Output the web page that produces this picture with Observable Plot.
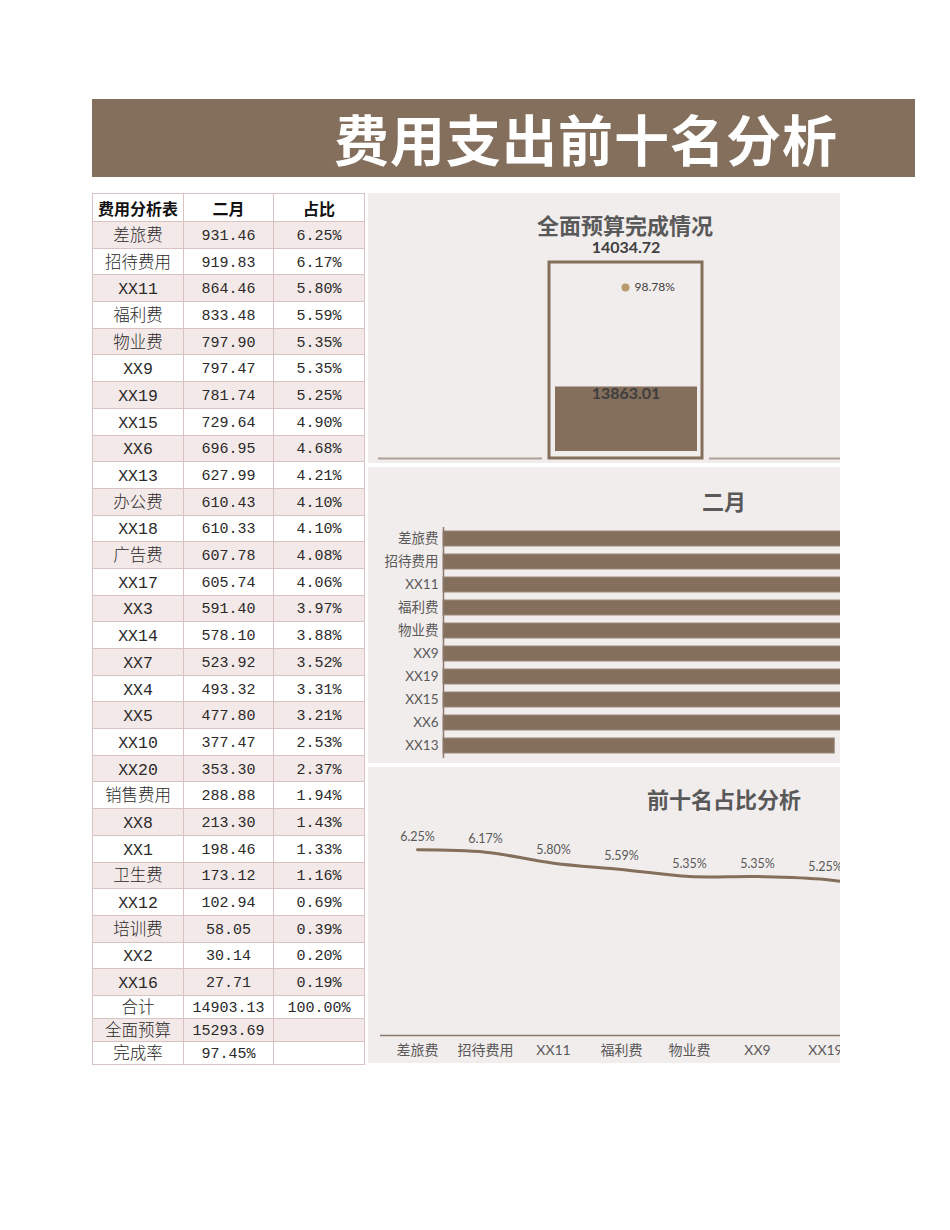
<!DOCTYPE html>
<html><head><meta charset="utf-8">
<script src="https://cdn.jsdelivr.net/npm/d3@7"></script>
<script src="https://cdn.jsdelivr.net/npm/@observablehq/plot@0.6"></script>
<style>
body{margin:0;background:#fff;width:950px;height:1230px;position:relative;overflow:hidden;font-family:"Noto Sans CJK SC",sans-serif}
#titlebar{position:absolute;left:92px;top:99px;width:823px;height:78px;background:#846e5c}
#titlebar span{position:absolute;left:242px;top:-2px;color:#fff;font-weight:700;font-size:55px;letter-spacing:1px;line-height:80px;white-space:nowrap}
#tbl{position:absolute;left:92px;top:193px;border-collapse:collapse;table-layout:fixed;width:273px}
#tbl td{border:1px solid #d8c2c2;padding:4px 0 0 0;text-align:center;overflow:hidden;white-space:nowrap;color:#2a2a2a;font-family:"Liberation Mono","Noto Sans CJK SC",monospace;font-size:15px;line-height:18px}
#tbl td.c0{font-size:16.5px;font-weight:300}
#tbl tr.head td{font-family:"Noto Sans CJK SC",sans-serif;font-weight:700;font-size:16px;color:#111;padding:0}
#tbl tr.shade td{background:#f4e9e9}
.panel{position:absolute;left:368px;width:472px;overflow:hidden}
.inner{position:relative;background:#f2eded;height:100%}
.inner svg{position:absolute;left:0;top:0}
.ctitle{position:absolute;left:0;right:0;text-align:center;font-weight:700;color:#595959;font-size:22px;line-height:28px;font-family:Lato,"Noto Sans CJK SC",sans-serif;z-index:2}
</style>
</head><body>
<div id="titlebar"><span>费用支出前十名分析</span></div>
<table id="tbl"><colgroup><col style="width:91px"><col style="width:90px"><col style="width:91px"></colgroup><tbody></tbody></table>
<div class="panel" id="gaugePanel" style="top:193px;height:270px"><div class="inner" id="gaugeInner" style="width:514px"><div class="ctitle" style="top:19px">全面预算完成情况</div></div></div>
<div class="panel" id="barPanel" style="top:467px;height:296px"><div class="inner" id="barInner" style="width:712px"><div class="ctitle" style="top:21px">二月</div></div></div>
<div class="panel" id="linePanel" style="top:767px;height:296px"><div class="inner" id="lineInner" style="width:712px"><div class="ctitle" style="top:19px">前十名占比分析</div></div></div>
<script>
// ---- data ----
const headers = ["费用分析表", "二月", "占比"];
const names = ["差旅费","招待费用","XX11","福利费","物业费","XX9","XX19","XX15","XX6","XX13","办公费","XX18","广告费","XX17","XX3","XX14","XX7","XX4","XX5","XX10","XX20","销售费用","XX8","XX1","卫生费","XX12","培训费","XX2","XX16"];
const febValues = [931.46,919.83,864.46,833.48,797.90,797.47,781.74,729.64,696.95,627.99,610.43,610.33,607.78,605.74,591.40,578.10,523.92,493.32,477.80,377.47,353.30,288.88,213.30,198.46,173.12,102.94,58.05,30.14,27.71];
const shares = [6.25,6.17,5.80,5.59,5.35,5.35,5.25,4.90,4.68,4.21,4.10,4.10,4.08,4.06,3.97,3.88,3.52,3.31,3.21,2.53,2.37,1.94,1.43,1.33,1.16,0.69,0.39,0.20,0.19];
const summaryLabels = ["合计", "全面预算", "完成率"];
const summaryValues = ["14903.13", "15293.69", "97.45%"];
const summaryShares = ["100.00%", "", ""];
const gaugeCategory = ["全面预算"];
const gaugeBudget = [14034.72];
const gaugeActual = [13863.01];
const gaugeRate = [98.78];

const F = 'Lato, "Noto Sans CJK SC", sans-serif';
const BROWN = "#846e5c";
const BG = "#f2eded";

// ---- table ----
const tbody = d3.select("#tbl tbody");
const tr0 = tbody.append("tr").attr("class", "head").style("height", "28px");
headers.forEach((h, i) => tr0.append("td").attr("class", "c" + i).text(h));
names.forEach((n, i) => {
  const tr = tbody.append("tr").attr("class", i % 2 === 0 ? "shade" : "").style("height", "26.7px");
  tr.append("td").attr("class", "c0").text(n);
  tr.append("td").attr("class", "c1").text(febValues[i].toFixed(2));
  tr.append("td").attr("class", "c2").text(shares[i].toFixed(2) + "%");
});
summaryLabels.forEach((l, i) => {
  const tr = tbody.append("tr").attr("class", i === 1 ? "shade" : "").style("height", "22.3px");
  tr.append("td").attr("class", "c0").text(l);
  tr.append("td").attr("class", "c1").text(summaryValues[i]);
  tr.append("td").attr("class", "c2").text(summaryShares[i]);
});

// ---- gauge ----
const gaugeData = gaugeCategory.map((c, i) => ({cat: c, budget: gaugeBudget[i], actual: gaugeActual[i], rate: gaugeRate[i]}));
const gCommon = {width: 514, height: 270, marginLeft: 10, marginRight: 10, marginTop: 69, marginBottom: 5,
  style: {background: "transparent", fontFamily: F, color: "#404040"}};
const gx = {domain: gaugeCategory, padding: 0.527, axis: null};
const g1 = Plot.plot({...gCommon, x: gx, y: {domain: [0, gaugeBudget[0]], axis: null},
  marks: [
    Plot.ruleY([0], {stroke: "#b0a096", strokeWidth: 2}),
    Plot.barY(gaugeData, {x: "cat", y: "budget", fill: "none", stroke: BG, strokeWidth: 14}),
    Plot.barY(gaugeData, {x: "cat", y: "budget", fill: "none", stroke: BROWN, strokeWidth: 3}),
    Plot.text(gaugeData, {x: "cat", y: "budget", text: d => d.budget.toFixed(2), dy: -15, fontWeight: 700, fontSize: 16, fill: "#404040"})
  ]});
const g2 = Plot.plot({...gCommon, x: gx, y: {domain: [0, 38000], axis: null},
  marks: [
    Plot.barY(gaugeData, {x: "cat", y: "actual", fill: BROWN, insetLeft: 6, insetRight: 5, insetBottom: 7}),
    Plot.text(gaugeData, {x: "cat", y: "actual", text: d => d.actual.toFixed(2), dy: 7, fontWeight: 700, fontSize: 16, fill: "#3e3e3e"})
  ]});
const g3 = Plot.plot({...gCommon, x: gx, y: {domain: [0, 113.2], axis: null},
  marks: [
    Plot.dot(gaugeData, {x: "cat", y: "rate", r: 4, fill: "#b89a6c", stroke: "none"}),
    Plot.text(gaugeData, {x: "cat", y: "rate", text: d => d.rate.toFixed(2) + "%", dx: 9, textAnchor: "start", fontSize: 12, fill: "#404040"})
  ]});
const gi = document.getElementById("gaugeInner");
gi.append(g1); gi.append(g2); gi.append(g3);

// ---- top ten ----
const top10 = names.slice(0, 10).map((n, i) => ({name: n, value: febValues[i], share: shares[i]}));
const top10Names = top10.map(d => d.name);

const bar = Plot.plot({width: 712, height: 296, marginLeft: 75, marginRight: 14, marginTop: 55, marginBottom: 2,
  style: {background: "transparent", fontFamily: F, color: "#595959"},
  x: {domain: [0, 1000], axis: null},
  y: {domain: top10Names, padding: 0.35, axis: null},
  marks: [
    Plot.barX(top10, {x: "value", y: "name", fill: BROWN, stroke: "#9c8a7c", strokeWidth: 1}),
    Plot.text(top10, {x: "value", y: "name", text: d => d.value.toFixed(2), dx: 5, textAnchor: "start", fontSize: 11, fill: "#595959"}),
    Plot.ruleX([0], {stroke: "#8a7a6e", strokeWidth: 1.5, insetTop: 5, insetBottom: 3}),
    Plot.axisY({tickSize: 0, tickPadding: 5, fontSize: 13.5, label: null})
  ]});
document.getElementById("barInner").append(bar);

const line = Plot.plot({width: 712, height: 296, marginLeft: 12, marginRight: 15, marginTop: 60, marginBottom: 28,
  style: {background: "transparent", fontFamily: F, color: "#595959"},
  x: {type: "point", domain: top10Names, padding: 0.5, axis: null},
  y: {domain: [0, 7], axis: null},
  marks: [
    Plot.ruleY([0], {stroke: "#8a7a6e", strokeWidth: 1.5}),
    Plot.line(top10, {x: "name", y: "share", stroke: BROWN, strokeWidth: 3, curve: "catmull-rom"}),
    Plot.text(top10, {x: "name", y: "share", text: d => d.share.toFixed(2) + "%", dy: -13, fontSize: 12.5, fill: "#595959"}),
    Plot.axisX({tickSize: 0, tickPadding: 10, fontSize: 14, label: null})
  ]});
document.getElementById("lineInner").append(line);
</script>
</body></html>
